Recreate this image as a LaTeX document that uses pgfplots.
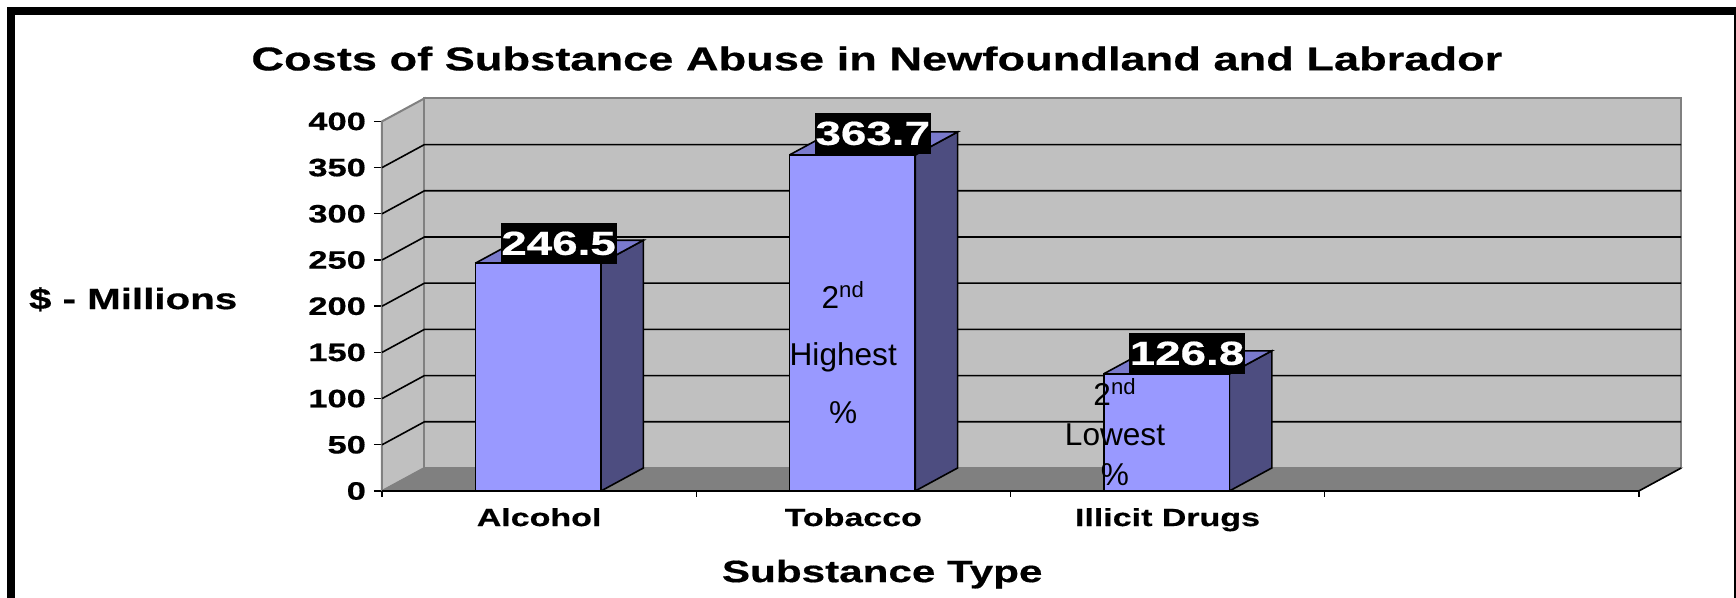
\documentclass[border=0pt]{standalone}
\usepackage{pgfplots}
\pgfplotsset{compat=1.18}
\usepackage{fontspec}
\setmainfont{Liberation Sans}
\newfontfamily\wb{Liberation Sans}[FakeStretch=1.37,BoldFeatures={FakeBold=0.5}]
\definecolor{wall}{HTML}{C0C0C0}
\definecolor{floorc}{HTML}{808080}
\definecolor{barf}{HTML}{9999FF}
\definecolor{bars}{HTML}{4D4D80}
\definecolor{bart}{HTML}{7A7ACC}
% bar faces: depth in data units is 0.135 across and 24.9 up
\newcommand{\barside}[2]{%
  \addplot[fill=bars,draw=black,line width=0.8pt] coordinates {(#1+0.2,0) (#1+0.335,24.9) (#1+0.335,#2+24.9) (#1+0.2,#2) (#1+0.2,0)};
  \addplot[fill=bart,draw=black,line width=0.8pt] coordinates {(#1-0.2,#2) (#1+0.2,#2) (#1+0.335,#2+24.9) (#1-0.065,#2+24.9) (#1-0.2,#2)};
  \addplot[fill=barf,draw=black,line width=0.8pt] coordinates {(#1-0.2,0) (#1+0.2,0) (#1+0.2,#2) (#1-0.2,#2) (#1-0.2,0)};
}
\begin{document}
\begin{tikzpicture}[x=0.5pt,y=0.5pt]
\path[use as bounding box,fill=white] (0,0) rectangle (1736,598);
\fill[black] (7,0) rectangle (15,591);
\fill[black] (7,583) rectangle (1736,591);
\fill[black] (1734,0) rectangle (1735.5,591);
\begin{axis}[
  at={(191pt,53.5pt)},anchor=origin,
  scale only axis,width=628.4pt,height=184.8pt,
  xmin=0,xmax=4,ymin=0,ymax=400,clip=false,
  axis x line*=bottom,axis y line*=left,
  axis line style={black,line width=0.8pt,-},
  ytick={0,50,...,400},
  xtick={0.5,1.5,2.5},
  xticklabels={Alcohol,Tobacco,Illicit Drugs},
  minor xtick={0,1,2,3,4},
  tick style={black,line width=0.7pt},
  major x tick style={draw=none},
  tick align=outside,
  major tick length=4pt,minor tick length=3pt,
  xticklabel style={font=\wb\bfseries\fontsize{12.4}{12.4}\selectfont,yshift=-1pt},
  yticklabel style={font=\wb\bfseries\fontsize{12.6}{12.6}\selectfont,xshift=-0.5pt},
  /pgf/number format/assume math mode=true,
  title={\wb\bfseries\fontsize{16.5}{16.5}\selectfont Costs of Substance Abuse in Newfoundland and Labrador},
  title style={at={(axis cs:1.575,455)},anchor=center,inner sep=0pt},
  xlabel={\wb\bfseries\fontsize{15.4}{15.4}\selectfont Substance Type},
  xlabel style={at={(axis cs:1.592,-90)},anchor=center,inner sep=0pt},
  ylabel={\wb\bfseries\fontsize{14.7}{14.7}\selectfont \$ - Millions},
  ylabel style={at={(axis cs:-0.792,207.5)},anchor=center,rotate=-90,inner sep=0pt},
]
% walls and floor
\addplot[fill=wall,draw=floorc,line width=1pt] coordinates {(0,0) (0,400) (0.135,424.9) (0.135,24.9) (0,0)};
\addplot[fill=wall,draw=floorc,line width=1pt] coordinates {(0.135,24.9) (0.135,424.9) (4.135,424.9) (4.135,24.9) (0.135,24.9)};
\addplot[fill=floorc,draw=floorc,line width=0.5pt] coordinates {(0,0) (0.135,24.9) (4.135,24.9) (4,0) (0,0)};
\addplot[draw=black,line width=0.8pt] coordinates {(4,0) (4.135,24.9)};
\addplot[draw=black,line width=0.8pt] coordinates {(0,0) (4,0)};
% gridlines
\foreach \v in {50,100,...,350}{
  \edef\tmp{\noexpand\addplot[draw=black,line width=0.8pt] coordinates {(0,\v) (0.135,\v+24.9) (4.135,\v+24.9)};}
  \tmp
}
% bars
\barside{0.497}{246.5}
\barside{1.497}{363.7}
\barside{2.497}{126.8}
% value labels
\addplot[draw=none,mark=none,point meta=explicit symbolic,
  nodes near coords,
  nodes near coords align={center},
  every node near coord/.append style={fill=black,text=white,inner sep=0pt,
     minimum width=58pt,minimum height=20.5pt,
     font=\wb\bfseries\fontsize{16.7}{16.7}\selectfont}]
  coordinates {(0.562,268)[246.5] (1.562,387)[363.7] (2.562,149)[126.8]};
% notes
\node[font=\fontsize{15.8}{15.8}\selectfont] at (axis cs:1.468,212) {2\textsuperscript{nd}};
\node[font=\fontsize{15.8}{15.8}\selectfont] at (axis cs:1.468,144.5) {Highest};
\node[font=\fontsize{15.8}{15.8}\selectfont] at (axis cs:1.468,85) {\%};
\node[font=\fontsize{15.8}{15.8}\selectfont] at (axis cs:2.333,107) {2\textsuperscript{nd}};
\node[font=\fontsize{15.8}{15.8}\selectfont] at (axis cs:2.333,61) {Lowest};
\node[font=\fontsize{15.8}{15.8}\selectfont] at (axis cs:2.333,18) {\%};
\end{axis}
\end{tikzpicture}
\end{document}
